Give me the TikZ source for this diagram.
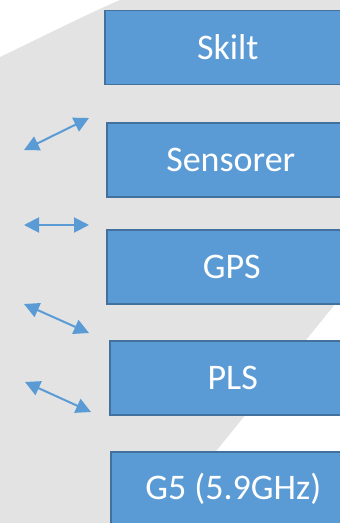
\documentclass[tikz,border=0pt]{standalone}
\usepackage{fontspec}
\setmainfont{Carlito}
\usetikzlibrary{arrows.meta}
\definecolor{bggray}{RGB}{227,227,227}
\definecolor{boxfill}{RGB}{91,155,213}
\definecolor{boxline}{RGB}{65,113,156}
\begin{document}
\begin{tikzpicture}[x=1pt,y=-1pt,
  blockbox/.style={draw=boxline, line width=1.5pt, fill=boxfill, text=white,
    font=\fontsize{36}{40}\selectfont, minimum height=74pt, inner sep=0pt, anchor=west},
  linkarrow/.style={draw=boxfill, line width=2pt,
    {Triangle[length=15pt,width=15pt]}-{Triangle[length=15pt,width=15pt]}}]
\useasboundingbox (0,0) rectangle (340,523);
\clip (0,0) rectangle (340,523);
\fill[white] (0,0) rectangle (340,523);
\fill[bggray] (120,0) -- (340,0) -- (340,298) -- (217,450) -- (160,523) -- (0,523) -- (0,57)
  .. controls (40,38) and (85,15) .. (120,0) -- cycle;
\node[blockbox, minimum width=246pt] (skilt) at (104,47.5) {Skilt};
\node[blockbox, minimum width=248pt] (sensorer) at (106,160) {Sensorer};
\node[blockbox, minimum width=250pt] (gps) at (106,267) {GPS};
\node[blockbox, minimum width=246pt] (pls) at (109,378) {PLS};
\node[blockbox, minimum width=245pt] (g5) at (110,489) {G5 (5.9GHz)};
\coordinate (a1s) at (24,150); \coordinate (a1e) at (89,118);
\coordinate (a2s) at (24,225); \coordinate (a2e) at (89,225);
\coordinate (a3s) at (24,304); \coordinate (a3e) at (89,333);
\coordinate (a4s) at (25,382); \coordinate (a4e) at (91,412);
\draw[linkarrow] (a1s) -- (a1e);
\draw[linkarrow] (a2s) -- (a2e);
\draw[linkarrow] (a3s) -- (a3e);
\draw[linkarrow] (a4s) -- (a4e);
\end{tikzpicture}
\end{document}
